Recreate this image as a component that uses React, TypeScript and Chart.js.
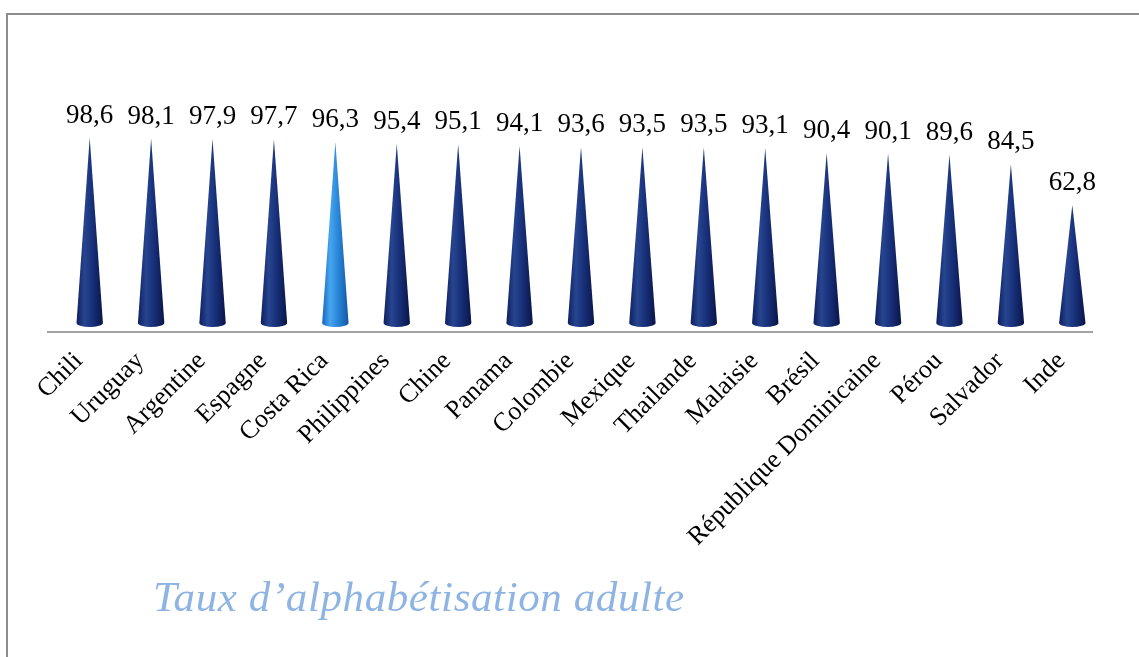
import React, { useEffect, useRef } from "react";
import { Chart, registerables } from "chart.js";

Chart.register(...registerables);

const categories = [
  "Chili",
  "Uruguay",
  "Argentine",
  "Espagne",
  "Costa Rica",
  "Philippines",
  "Chine",
  "Panama",
  "Colombie",
  "Mexique",
  "Thailande",
  "Malaisie",
  "Brésil",
  "République Dominicaine",
  "Pérou",
  "Salvador",
  "Inde",
];

const literacyRates = [
  98.6, 98.1, 97.9, 97.7, 96.3, 95.4, 95.1, 94.1, 93.6, 93.5, 93.5, 93.1, 90.4,
  90.1, 89.6, 84.5, 62.8,
];

const highlighted = "Costa Rica";
const titleText = "Taux d\u2019alphabétisation adulte";

const DEPTH_X = 11;
const DEPTH_Y = -9;
const BASE_RY = 4;
const FONT_FAMILY = "'Liberation Serif', 'Times New Roman', serif";

const conePlugin = {
  id: "cones",
  afterDatasetsDraw(chart: any) {
    const ctx: CanvasRenderingContext2D = chart.ctx;
    const meta = chart.getDatasetMeta(0);
    meta.data.forEach((el: any, i: number) => {
      const { x, y, base, width } = el.getProps(["x", "y", "base", "width"], true);
      const cx = x + DEPTH_X;
      const tip = y + DEPTH_Y;
      const by = base + DEPTH_Y;
      const r = width / 2;
      const hi = categories[i] === highlighted;
      const g = ctx.createLinearGradient(cx - r, 0, cx + r, 0);
      if (hi) {
        g.addColorStop(0, "#1565bd");
        g.addColorStop(0.3, "#47a6ef");
        g.addColorStop(0.6, "#2a86d8");
        g.addColorStop(1, "#1257a6");
      } else {
        g.addColorStop(0, "#0e1f5e");
        g.addColorStop(0.3, "#27458f");
        g.addColorStop(0.6, "#18307a");
        g.addColorStop(1, "#0a1547");
      }
      ctx.save();
      ctx.beginPath();
      ctx.moveTo(cx, tip);
      ctx.lineTo(cx + r, by);
      ctx.ellipse(cx, by, r, BASE_RY, 0, 0, Math.PI);
      ctx.lineTo(cx, tip);
      ctx.closePath();
      ctx.fillStyle = g;
      ctx.fill();

      ctx.fillStyle = "#000000";
      ctx.font = `27px ${FONT_FAMILY}`;
      ctx.textAlign = "center";
      ctx.textBaseline = "alphabetic";
      const txt = literacyRates[i].toFixed(1).replace(".", ",");
      ctx.fillText(txt, cx, tip - 15);
      ctx.restore();
    });
  },
};

export default function App() {
  const canvasRef = useRef<HTMLCanvasElement | null>(null);

  useEffect(() => {
    if (!canvasRef.current) return;
    const chart = new Chart(canvasRef.current, {
      type: "bar",
      data: {
        labels: categories,
        datasets: [
          {
            data: literacyRates,
            backgroundColor: "rgba(0,0,0,0)",
            borderWidth: 0,
            categoryPercentage: 1,
            barPercentage: 0.43,
          },
        ],
      },
      options: {
        responsive: false,
        animation: false,
        layout: { padding: { top: 144, left: 48, right: 47, bottom: 0 } },
        plugins: {
          legend: { display: false },
          tooltip: { enabled: false },
          title: { display: false },
        },
        scales: {
          x: {
            grid: { display: false, drawTicks: false },
            border: { display: true, color: "#a3a3a3", width: 2 },
            ticks: {
              color: "#000000",
              font: { family: FONT_FAMILY, size: 26 },
              maxRotation: 45,
              minRotation: 45,
              padding: 14,
              autoSkip: false,
            },
            afterFit: (scale: any) => {
              scale.height = 325;
              scale.paddingLeft = 0;
              scale.paddingRight = 0;
            },
          },
          y: {
            display: false,
            min: 0,
            max: 100,
          },
        },
      },
      plugins: [conePlugin],
    });
    return () => chart.destroy();
  }, []);

  return (
    <div
      style={{
        position: "fixed",
        left: 0,
        top: 0,
        width: 1139,
        height: 657,
        overflow: "hidden",
        background: "#ffffff",
      }}
    >
      <div
        style={{
          position: "absolute",
          left: 6,
          top: 13,
          width: 1200,
          height: 700,
          borderTop: "2px solid #8c8c8c",
          borderLeft: "2px solid #8c8c8c",
        }}
      />
      <canvas
        ref={canvasRef}
        width={1139}
        height={657}
        style={{ position: "absolute", left: 0, top: 0, display: "block" }}
      />
      <div
        style={{
          position: "absolute",
          left: 153,
          top: 575,
          fontFamily: FONT_FAMILY,
          fontStyle: "italic",
          fontSize: 43,
          letterSpacing: 0.6,
          lineHeight: 1,
          color: "#8db4e2",
          whiteSpace: "nowrap",
        }}
      >
        {titleText}
      </div>
    </div>
  );
}
